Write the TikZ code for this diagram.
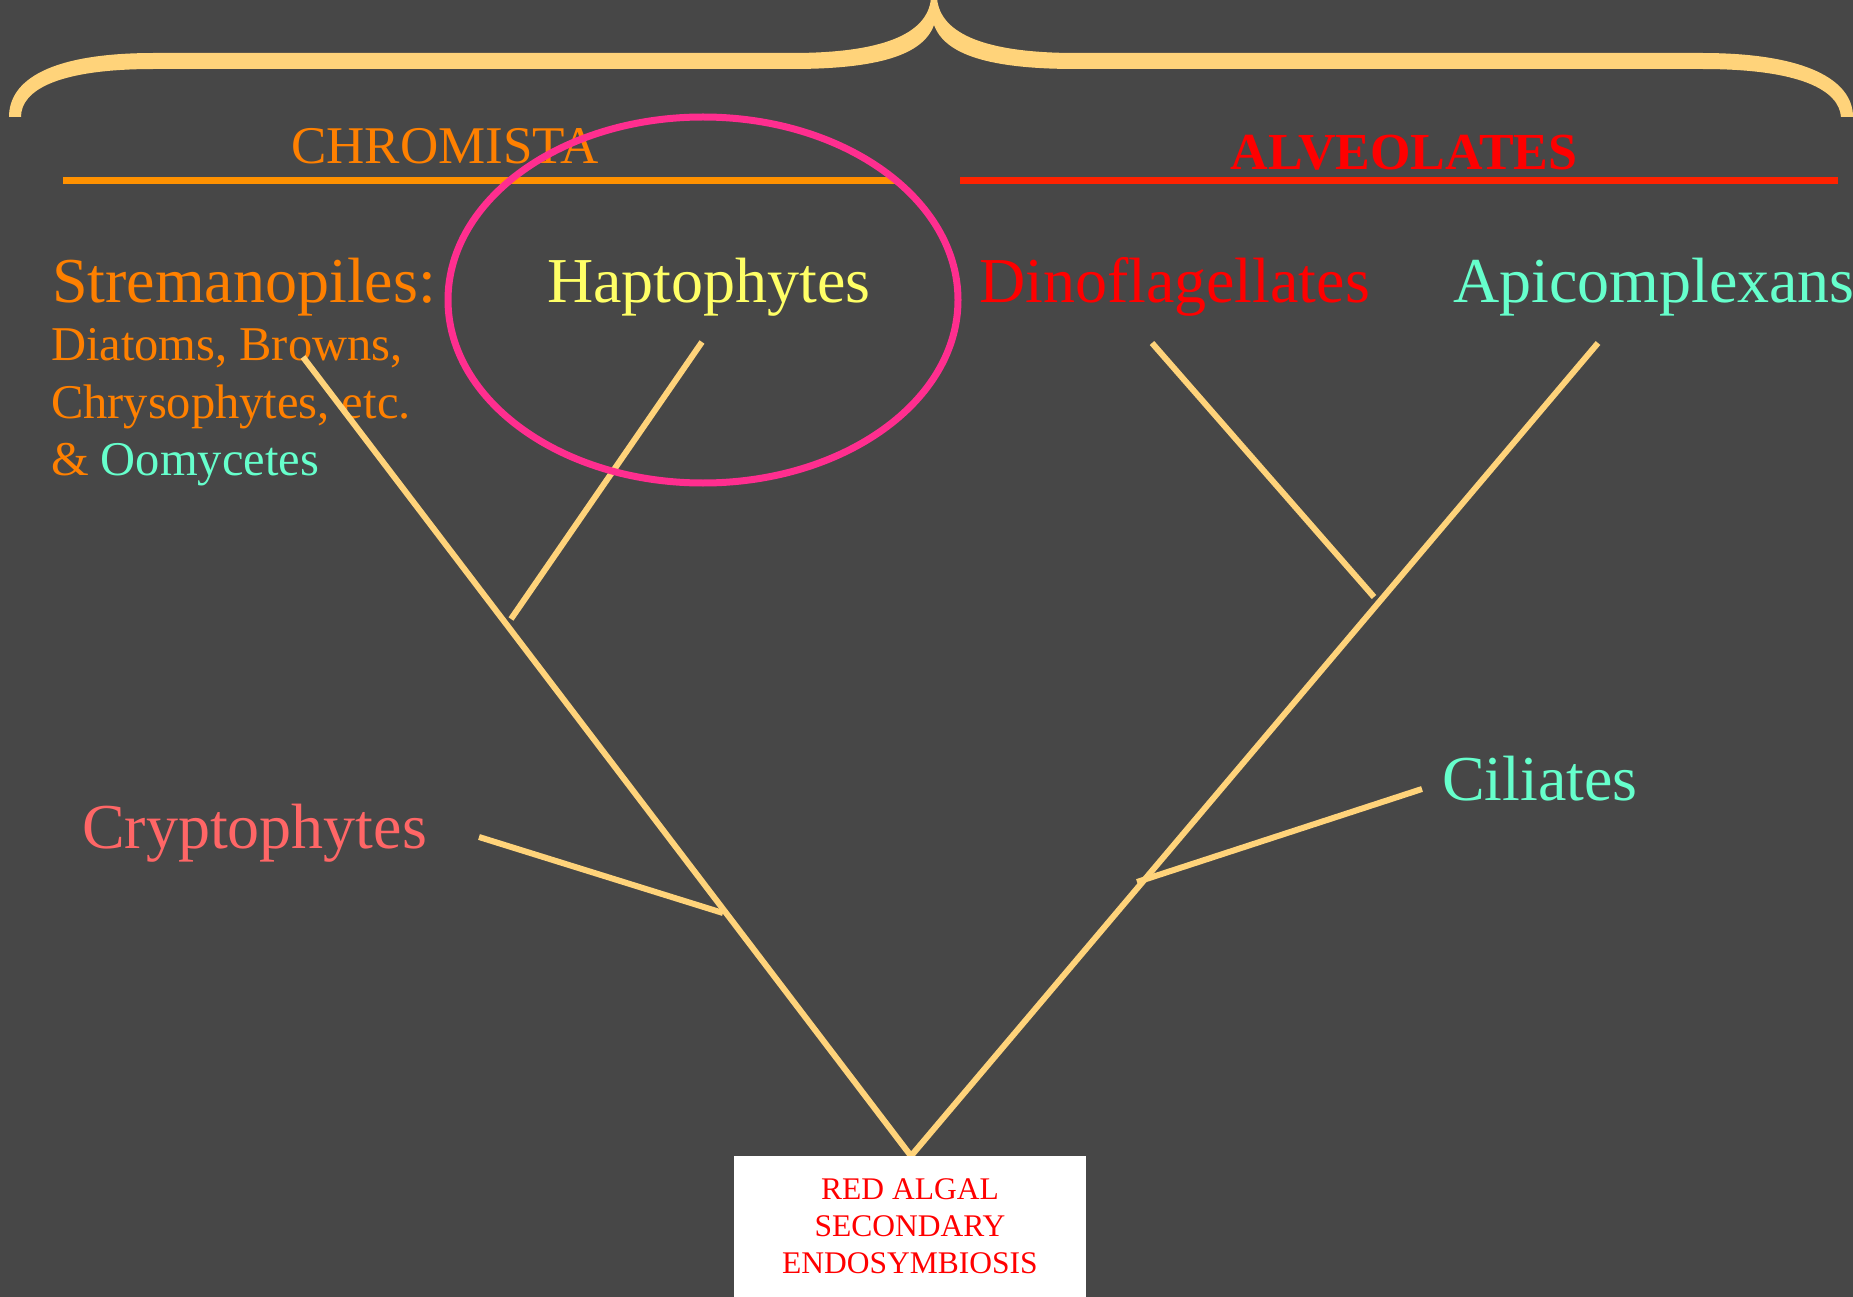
\documentclass[tikz,border=0pt]{standalone}
\usepackage{fontspec}
\setmainfont{Liberation Serif}
\definecolor{bg}{RGB}{71,71,71}
\definecolor{tan}{RGB}{255,211,122}
\definecolor{orangetxt}{RGB}{255,128,0}
\definecolor{orangeline}{RGB}{255,145,0}
\definecolor{redline}{RGB}{255,34,0}
\definecolor{redtxt}{RGB}{255,0,0}
\definecolor{aqua}{RGB}{102,255,204}
\definecolor{yel}{RGB}{255,255,102}
\definecolor{salmon}{RGB}{255,102,102}
\definecolor{pinkring}{RGB}{255,46,143}
\newcommand\myfs[1]{\fontsize{#1}{#1}\selectfont}
\tikzset{
  lbl/.style={inner sep=0pt, outer sep=0pt, anchor=base west},
  big/.style={font=\myfs{64}},
  small/.style={font=\myfs{48.5}},
  branch/.style={draw=tan, line width=6pt, line cap=butt},
}
\begin{document}
\begin{tikzpicture}[x=1pt,y=-1pt]
\useasboundingbox (0,0) rectangle (1853,1297);
\fill[bg] (0,0) rectangle (1853,1297);

% brace
\fill[tan] (9,117) .. controls (9,80) and (50,53) .. (154,53) -- (792,53)
  .. controls (880,53) and (928,35) .. (931,-2) -- (937,-2)
  .. controls (940,35) and (988,53) .. (1076,53) -- (1702,53)
  .. controls (1806,53) and (1853,80) .. (1853,117) -- (1841,117)
  .. controls (1839,90) and (1800,69) .. (1702,69) -- (1076,69)
  .. controls (990,69) and (945,55) .. (934,25)
  .. controls (923,55) and (878,69) .. (792,69) -- (154,69)
  .. controls (58,69) and (21,90) .. (21,117) -- cycle;

% group headings
\node[lbl, anchor=base, text=orangetxt, font=\myfs{53}] (chrom) at (445,164) {CHROMISTA};
\node[lbl, anchor=base, text=redtxt, font=\bfseries\myfs{52}] (alveo) at (1404,170) {ALVEOLATES};
\coordinate (ol1) at (63,180.5);
\coordinate (ol2) at (895,180.5);
\coordinate (rl1) at (960,180.5);
\coordinate (rl2) at (1838,180.5);
\draw[orangeline, line width=7pt] (ol1) -- (ol2);
\draw[redline, line width=7pt] (rl1) -- (rl2);

% taxon labels
\node[lbl, big, text=orangetxt] (strem) at (52,303) {Stremanopiles:};
\node[lbl, small, text=orangetxt] (diat) at (51,360) {Diatoms, Browns,};
\node[lbl, small, text=orangetxt] (chry) at (51,418) {Chrysophytes, etc.};
\node[lbl, small, text=orangetxt] (oomy) at (51,475) {\& \textcolor{aqua}{Oomycetes}};
\node[lbl, big, text=yel] (hapt) at (547,303) {Haptophytes};
\node[lbl, big, text=redtxt] (dinol) at (979,303) {Dinoflagellates};
\node[lbl, big, text=aqua] (apicl) at (1453,303) {Apicomplexans};
\node[lbl, big, text=aqua] (cilil) at (1442,800) {Ciliates};
\node[lbl, big, text=salmon] (crypl) at (82,848) {Cryptophytes};

% tree
\coordinate (root) at (911,1156);
\coordinate (stre) at (303,357);
\coordinate (haptt) at (702,342);
\coordinate (haptj) at (511,619);
\coordinate (cryp) at (479,837);
\coordinate (crypj) at (723,913);
\coordinate (apic) at (1598,343);
\coordinate (dino) at (1152,343);
\coordinate (dinoj) at (1374,597);
\coordinate (cili) at (1422,789);
\coordinate (cilij) at (1137,882);
\draw[branch] (stre) -- (root);
\draw[branch] (apic) -- (root);
\draw[branch] (haptt) -- (haptj);
\draw[branch] (cryp) -- (crypj);
\draw[branch] (dino) -- (dinoj);
\draw[branch] (cili) -- (cilij);

% ellipse
\draw[pinkring, line width=7pt] (703,300) ellipse [x radius=255pt, y radius=183pt];

% root box
\node[fill=white, inner sep=0pt, minimum width=352pt, minimum height=141pt, anchor=north, align=center, text=redtxt, font=\fontsize{31.5}{37}\selectfont] (box) at (910,1156) {RED ALGAL\\SECONDARY\\ENDOSYMBIOSIS};
\end{tikzpicture}
\end{document}
